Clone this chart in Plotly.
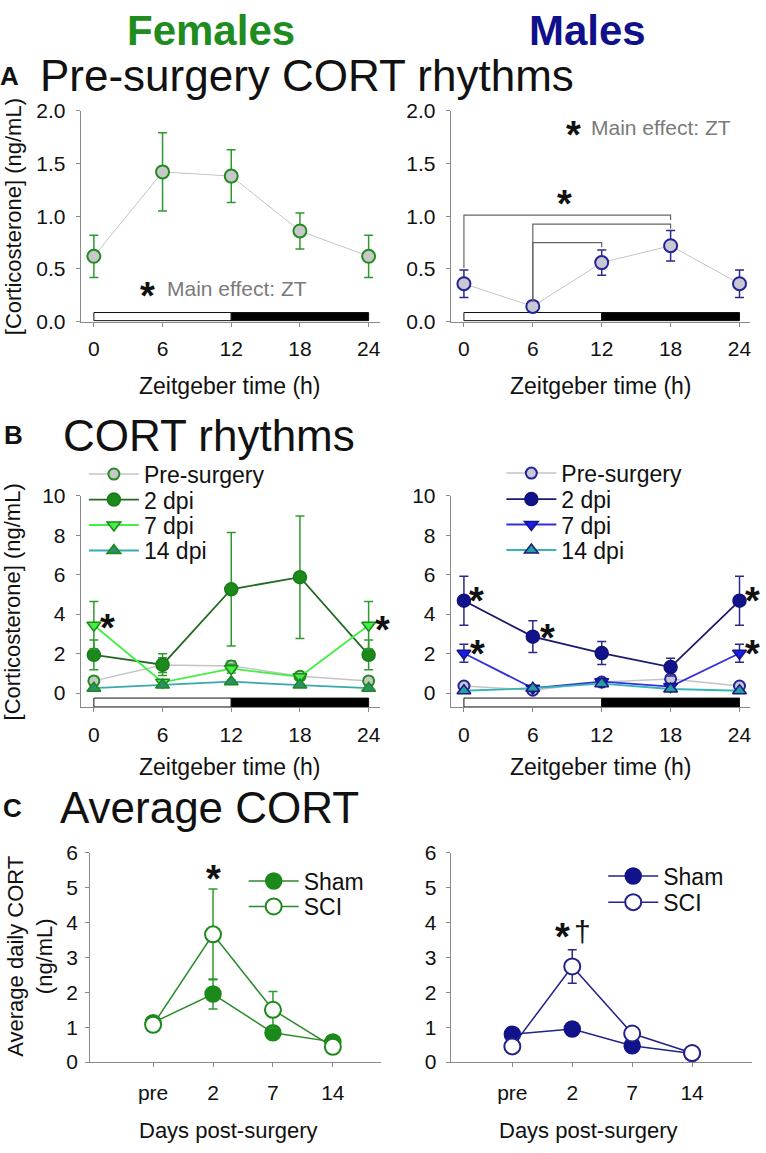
import plotly.graph_objects as go

W, H = 766, 1153
FONT = "Arial, 'Liberation Sans', sans-serif"

# ---------------- data ----------------
zt = [0, 6, 12, 18, 24]
zt_ticks = [0, 6, 12, 18, 24]

# Panel A (pre-surgery), also reused in panel B
pre_f = [0.62, 1.42, 1.38, 0.86, 0.62]
pre_f_sem = [0.20, 0.37, 0.25, 0.17, 0.20]
pre_m = [0.36, 0.145, 0.56, 0.72, 0.36]
pre_m_sem = [0.13, 0.03, 0.12, 0.145, 0.13]

# Panel B (post-injury rhythms)
dpi2_f = [1.94, 1.44, 5.26, 5.87, 1.94]
dpi2_f_sem = [0.75, 0.55, 2.87, 3.10, 0.75]
dpi7_f = [3.44, 0.55, 1.24, 0.83, 3.44]
dpi7_f_sem = [1.20, 0.12, 0.22, 0.12, 1.20]
dpi14_f = [0.25, 0.41, 0.58, 0.41, 0.25]
dpi14_f_sem = [0.05, 0.06, 0.08, 0.06, 0.05]

dpi2_m = [4.68, 2.86, 2.03, 1.32, 4.68]
dpi2_m_sem = [1.24, 0.80, 0.58, 0.45, 1.24]
dpi7_m = [2.02, 0.25, 0.58, 0.33, 2.02]
dpi7_m_sem = [0.45, 0.05, 0.08, 0.06, 0.45]
dpi14_m = [0.12, 0.25, 0.48, 0.21, 0.12]
dpi14_m_sem = [0.03, 0.04, 0.06, 0.04, 0.03]

# Panel C (average daily CORT)
days = ["pre", "2", "7", "14"]
sham_f = [1.13, 1.95, 0.84, 0.58]
sham_f_sem = [0.06, 0.43, 0.12, 0.05]
sci_f = [1.07, 3.66, 1.50, 0.44]
sci_f_sem = [0.06, 1.30, 0.52, 0.05]
sham_m = [0.80, 0.95, 0.47, 0.25]
sham_m_sem = [0.05, 0.06, 0.05, 0.03]
sci_m = [0.45, 2.74, 0.82, 0.26]
sci_m_sem = [0.05, 0.48, 0.08, 0.03]

# light/dark phases
light_phase = (0, 12)
dark_phase = (12, 24)

# ---------------- colours ----------------
F_TITLE = "#1e8c1e"
M_TITLE = "#10108a"
F_ERR = "#2e9a2e"
M_ERR = "#2a2a8a"
GRAY_LINE = "#c4c4c4"
AX = "#8a8a8a"


def px(p):
    return p / W


def py(p):
    return 1 - p / H


fig = go.Figure()


def add(x, y, err, xa, ya, name, lc, lw, sym, size, fill, mline, errc,
        legend=None, mlw=1.5):
    fig.add_trace(go.Scatter(
        x=x, y=y, mode="lines+markers", name=name,
        line=dict(color=lc, width=lw),
        marker=dict(symbol=sym, size=size, color=fill,
                    line=dict(color=mline, width=mlw)),
        error_y=dict(type="data", array=err, visible=True, color=errc,
                     thickness=1.5, width=4.5),
        xaxis=xa, yaxis=ya,
        showlegend=legend is not None,
        legend=legend if legend else "legend",
        cliponaxis=False,
    ))


# Panel A
add(zt, pre_f, pre_f_sem, "x", "y", "Pre-surgery", GRAY_LINE, 1, "circle", 13,
    "#c8c8c8", "#228b22", F_ERR, mlw=2)
add(zt, pre_m, pre_m_sem, "x2", "y2", "Pre-surgery", GRAY_LINE, 1, "circle", 13,
    "#c8c8d0", "#22229a", M_ERR, mlw=2)

# Panel B female
add(zt, pre_f, pre_f_sem, "x3", "y3", "Pre-surgery", GRAY_LINE, 1.5, "circle", 11,
    "#c8c8c8", "#228b22", F_ERR, legend="legend", mlw=2)
add(zt, dpi2_f, dpi2_f_sem, "x3", "y3", "2 dpi", "#236b23", 1.8, "circle", 13,
    "#1b8a1b", "#1b7a1b", F_ERR, legend="legend2")
add(zt, dpi7_f, dpi7_f_sem, "x3", "y3", "7 dpi", "#44ee44", 1.8, "triangle-down", 12,
    "#44ee44", "#1b8a1b", F_ERR, legend="legend3")
add(zt, dpi14_f, dpi14_f_sem, "x3", "y3", "14 dpi", "#3aa8b0", 1.8, "triangle-up", 12,
    "#2a8f6a", "#1b8a1b", F_ERR, legend="legend4")

# Panel B male
add(zt, pre_m, pre_m_sem, "x4", "y4", "Pre-surgery", GRAY_LINE, 1.5, "circle", 11,
    "#c8c8d8", "#22229a", M_ERR, legend="legend5", mlw=2)
add(zt, dpi2_m, dpi2_m_sem, "x4", "y4", "2 dpi", "#1a1a70", 1.8, "circle", 13,
    "#12128a", "#12127a", M_ERR, legend="legend6")
add(zt, dpi7_m, dpi7_m_sem, "x4", "y4", "7 dpi", "#3030e0", 1.8, "triangle-down", 12,
    "#1c1ce6", "#14148a", M_ERR, legend="legend7")
add(zt, dpi14_m, dpi14_m_sem, "x4", "y4", "14 dpi", "#33b5b5", 1.8, "triangle-up", 12,
    "#23a0a0", "#1a1a80", M_ERR, legend="legend8")

# Panel C
add(days, sham_f, sham_f_sem, "x5", "y5", "Sham", "#2a8a2a", 1.5, "circle", 16,
    "#1b8a1b", "#1b8a1b", F_ERR, legend="legend9")
add(days, sci_f, sci_f_sem, "x5", "y5", "SCI", "#2a8a2a", 1.5, "circle", 16,
    "white", "#1b8a1b", F_ERR, legend="legend10", mlw=2)
add(days, sham_m, sham_m_sem, "x6", "y6", "Sham", "#22228a", 1.5, "circle", 16,
    "#12128a", "#12128a", M_ERR, legend="legend11")
add(days, sci_m, sci_m_sem, "x6", "y6", "SCI", "#22228a", 1.5, "circle", 16,
    "white", "#22228a", M_ERR, legend="legend12", mlw=2)

# ---------------- axes ----------------
TICKF = dict(family=FONT, size=21, color="#111")


def xax(dom, rng, anchor, **kw):
    d = dict(domain=[px(dom[0]), px(dom[1])], range=rng, anchor=anchor,
             showline=True, linecolor=AX, linewidth=1, showgrid=False,
             zeroline=False, ticks="outside", ticklen=4, tickcolor=AX,
             tickfont=TICKF, ticklabelstandoff=4, fixedrange=True)
    d.update(kw)
    return d


def yax(dom, rng, anchor, **kw):
    d = dict(domain=[py(dom[0]), py(dom[1])], range=rng, anchor=anchor,
             showline=True, linecolor=AX, linewidth=1, showgrid=False,
             zeroline=False, ticks="outside", ticklen=4, tickcolor=AX,
             tickfont=TICKF, ticklabelstandoff=6, fixedrange=True)
    d.update(kw)
    return d


XF = (80.8, 380.0)
XM = (451.3, 751.4)
ZT_RANGE = [-1.15, 24.95]
YA = (316.0, 100.7)
YB = (709.5, 493.5)
YC = (1071.5, 857.8)

fig.update_layout(
    xaxis=xax(XF, ZT_RANGE, "y", tickvals=zt_ticks),
    yaxis=yax(YA, [0, 2.0], "x", tickvals=[0, 0.5, 1.0, 1.5, 2.0], tickformat=".1f"),
    xaxis2=xax(XM, ZT_RANGE, "y2", tickvals=zt_ticks),
    yaxis2=yax(YA, [0, 2.0], "x2", tickvals=[0, 0.5, 1.0, 1.5, 2.0], tickformat=".1f"),
    xaxis3=xax(XF, ZT_RANGE, "y3", tickvals=zt_ticks),
    yaxis3=yax(YB, [-0.72, 10], "x3", tickvals=[0, 2, 4, 6, 8, 10]),
    xaxis4=xax(XM, ZT_RANGE, "y4", tickvals=zt_ticks),
    yaxis4=yax(YB, [-0.72, 10], "x4", tickvals=[0, 2, 4, 6, 8, 10]),
    xaxis5=xax((90.3, 381.3), [-1.05, 3.8], "y5", type="category",
               categoryorder="array", categoryarray=days, ticklabelstandoff=8),
    yaxis5=yax(YC, [0, 6], "x5", tickvals=[0, 1, 2, 3, 4, 5, 6], ticklabelstandoff=3),
    xaxis6=xax((451.2, 753.0), [-1.03, 4.0], "y6", type="category",
               categoryorder="array", categoryarray=days, ticklabelstandoff=8),
    yaxis6=yax(YC, [0, 6], "x6", tickvals=[0, 1, 2, 3, 4, 5, 6], ticklabelstandoff=5),
)

# ---------------- legends (one entry each for exact row placement) -------------
LEGF = dict(family=FONT, size=23, color="#111")
leg_specs = {
    "legend": (90, 471.5), "legend2": (90, 497.5), "legend3": (90, 523.5), "legend4": (90, 549.5),
    "legend5": (508, 470.5), "legend6": (508, 497.0), "legend7": (508, 523.0), "legend8": (508, 549.0),
    "legend9": (250, 886.7), "legend10": (250, 912.7),
    "legend11": (610, 881.7), "legend12": (610, 908.3),
}
for key, (lx, ly) in leg_specs.items():
    fig.update_layout({key: dict(x=px(lx - 6), y=py(ly), xanchor="left", yanchor="middle",
                                 bgcolor="rgba(0,0,0,0)", borderwidth=0, font=LEGF,
                                 itemwidth=50, itemclick=False, itemdoubleclick=False)})

# ---------------- shapes ----------------
shapes = []
for xa, ya, y0, y1 in [("x", "y", 0.01, 0.087), ("x2", "y2", 0.01, 0.087),
                       ("x3", "y3", -0.70, -0.25), ("x4", "y4", -0.70, -0.25)]:
    shapes.append(dict(type="rect", xref=xa, yref=ya, x0=light_phase[0], x1=light_phase[1],
                       y0=y0, y1=y1, fillcolor="white", line=dict(color="#111", width=1),
                       layer="below"))
    shapes.append(dict(type="rect", xref=xa, yref=ya, x0=dark_phase[0], x1=dark_phase[1],
                       y0=y0, y1=y1, fillcolor="black", line=dict(color="#111", width=1),
                       layer="below"))

# significance brackets (male pre-surgery): (left ZT, right ZT, height, left foot, right foot)
brackets = [(0, 18, 1.01, 0.51, 0.965), (6, 18, 0.925, 0.19, 0.88), (6, 12, 0.75, 0.19, 0.705)]
for l, r, h, lf, rf in brackets:
    shapes.append(dict(type="path", xref="x2", yref="y2",
                       path=f"M {l},{lf} L {l},{h} L {r},{h} L {r},{rf}",
                       line=dict(color="#666", width=1.2)))
fig.update_layout(shapes=shapes)

# ---------------- annotations ----------------
ann = []


def paper_text(text, x, y, size, color="#111", bold=False, xanchor="left", angle=0):
    t = f"<b>{text}</b>" if bold else text
    ann.append(dict(text=t, x=px(x), y=py(y), xref="paper", yref="paper", xanchor=xanchor,
                    yanchor="middle", showarrow=False, textangle=angle,
                    font=dict(family=FONT, size=size, color=color)))


def star(x, y, xr, yr, text="*", size=38, xshift=0):
    ann.append(dict(text=f"<b>{text}</b>", x=x, y=y, xref=xr, yref=yr, xanchor="center",
                    yanchor="middle", showarrow=False, yshift=-8, xshift=xshift,
                    font=dict(family=FONT, size=size, color="#111")))


def data_text(text, x, y, xr, yr, size=21, color="#7a7a7a"):
    ann.append(dict(text=text, x=x, y=y, xref=xr, yref=yr, xanchor="left",
                    yanchor="middle", showarrow=False,
                    font=dict(family=FONT, size=size, color=color)))


paper_text("Females", 211, 19, 42, F_TITLE, bold=True, xanchor="center")
paper_text("Males", 588, 19, 42, M_TITLE, bold=True, xanchor="center")
paper_text("A", 10, 65, 26, bold=True, xanchor="center")
paper_text("Pre-surgery CORT rhythms", 38, 65, 44)
paper_text("B", 14, 432, 26, bold=True, xanchor="center")
paper_text("CORT rhythms", 61, 432, 44)
paper_text("C", 13, 812, 26, bold=True, xanchor="center")
paper_text("Average CORT", 58, 812, 44)

paper_text("[Corticosterone] (ng/mL)", 13, 208.4, 22, xanchor="center", angle=-90)
paper_text("[Corticosterone] (ng/mL)", 13, 601.5, 22, xanchor="center", angle=-90)
paper_text("Average daily CORT<br>(ng/mL)", 30, 963, 22, xanchor="center", angle=-90)

paper_text("Zeitgeber time (h)", 230.4, 381.7, 23, xanchor="center")
paper_text("Zeitgeber time (h)", 601.3, 381.7, 23, xanchor="center")
paper_text("Zeitgeber time (h)", 230.4, 770, 23, xanchor="center")
paper_text("Zeitgeber time (h)", 601.3, 770, 23, xanchor="center")
paper_text("Days post-surgery", 229, 1141, 22, xanchor="center")
paper_text("Days post-surgery", 589, 1141, 22, xanchor="center")

# panel A
star(4.71, 0.318, "x", "y")
data_text("Main effect: ZT", 6.2, 0.315, "x", "y")
star(9.58, 1.845, "x2", "y2")
data_text("Main effect: ZT", 10.9, 1.845, "x2", "y2")
star(8.8, 1.19, "x2", "y2")
# panel B (asterisks beside the marked points)
star(0, 3.7, "x3", "y3", xshift=14)
star(24, 3.6, "x3", "y3", xshift=14)
star(0, 5.05, "x4", "y4", xshift=13)
star(6, 3.2, "x4", "y4", xshift=15)
star(24, 5.05, "x4", "y4", xshift=13)
star(0, 2.37, "x4", "y4", xshift=14)
star(24, 2.37, "x4", "y4", xshift=13)
# panel C
star(1, 5.48, "x5", "y5")
star(0.83, 3.8, "x6", "y6")
ann.append(dict(text="†", x=1.17, y=3.75, xref="x6", yref="y6", xanchor="center",
                yanchor="middle", showarrow=False,
                font=dict(family=FONT, size=30, color="#111")))

fig.update_layout(
    annotations=ann,
    width=W, height=H,
    margin=dict(l=0, r=0, t=0, b=0),
    paper_bgcolor="white", plot_bgcolor="white",
    font=dict(family=FONT, color="#111"),
)

fig.write_html(
    "out.html",
    config={"displayModeBar": False, "staticPlot": True},
    post_script="document.body.style.margin='0px';document.body.style.overflow='hidden';",
)
